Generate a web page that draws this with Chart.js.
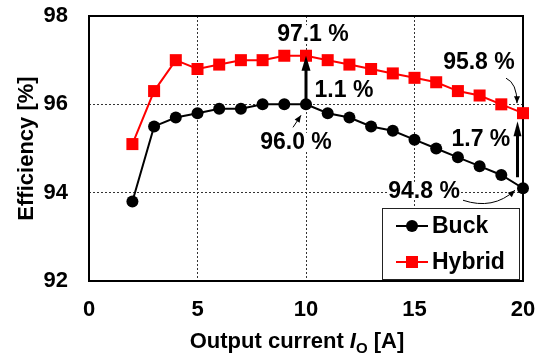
<!DOCTYPE html>
<html>
<head>
<meta charset="utf-8">
<script src="https://cdn.jsdelivr.net/npm/chart.js@4/dist/chart.umd.min.js"></script>
<style>
html,body{margin:0;padding:0;background:#fff;}
#wrap{width:539px;height:358px;}
</style>
</head>
<body>
<div id="wrap"><canvas id="c" width="539" height="358"></canvas></div>
<script>
// ---- data ----
const currents = [2,3,4,5,6,7,8,9,10,11,12,13,14,15,16,17,18,19,20];
const buck =   [93.8,95.5,95.7,95.8,95.9,95.9,96.0,96.0,96.0,95.8,95.7,95.5,95.4,95.2,95.0,94.8,94.6,94.4,94.1];
const hybrid = [95.1,96.3,97.0,96.8,96.9,97.0,97.0,97.1,97.1,97.0,96.9,96.8,96.7,96.6,96.5,96.3,96.2,96.0,95.8];
const xTicks = [0,5,10,15,20];
const yTicks = [92,94,96,98];
const seriesNames = ['Buck','Hybrid'];
const xTitle = ['Output current ', 'I', 'O', ' [A]'];
const yTitle = 'Efficiency [%]';
const annoTexts = ['97.1 %','1.1 %','96.0 %','95.8 %','1.7 %','94.8 %'];

const FONT = '"Liberation Sans", Arial, Helvetica, sans-serif';

function head(ctx, fx, fy, tx, ty, len, hw){
  const ang = Math.atan2(ty-fy, tx-fx);
  const c = Math.cos(ang), s = Math.sin(ang);
  ctx.beginPath();
  ctx.moveTo(tx, ty);
  ctx.lineTo(tx - len*c + hw*s, ty - len*s - hw*c);
  ctx.lineTo(tx - len*c - hw*s, ty - len*s + hw*c);
  ctx.closePath();
  ctx.fill();
}
function curveArrow(ctx, sx, sy, cx, cy, ex, ey){
  ctx.beginPath();
  ctx.moveTo(sx, sy);
  ctx.quadraticCurveTo(cx, cy, ex, ey);
  ctx.stroke();
  head(ctx, cx, cy, ex, ey, 7, 3);
}

const plugin = {
  id: 'decor',
  beforeDatasetsDraw(chart){
    const {ctx, chartArea:a} = chart;
    ctx.save();
    ctx.strokeStyle = '#000';
    ctx.lineWidth = 2;
    ctx.strokeRect(a.left, a.top, a.right - a.left, a.bottom - a.top);
    ctx.restore();
  },
  afterDatasetsDraw(chart){
    const {ctx, scales:{x, y}} = chart;
    const n = currents.length - 1;
    const i10 = currents.indexOf(10);
    ctx.save();
    ctx.fillStyle = '#000';
    ctx.strokeStyle = '#000';
    // vertical arrow at 10 A
    const ax = x.getPixelForValue(currents[i10]);
    const ay1 = y.getPixelForValue(buck[i10]);
    const ay2 = y.getPixelForValue(hybrid[i10]);
    ctx.lineWidth = 3;
    ctx.beginPath(); ctx.moveTo(ax, ay1); ctx.lineTo(ax, ay2 + 12); ctx.stroke();
    head(ctx, ax, ay1, ax, ay2, 15, 4.5);
    // vertical arrow at 20 A
    const bx = x.getPixelForValue(currents[n]) - 5.5;
    const by1 = y.getPixelForValue(buck[n]) - 11;
    const by2 = y.getPixelForValue(hybrid[n]) + 8;
    ctx.beginPath(); ctx.moveTo(bx, by1); ctx.lineTo(bx, by2 + 12); ctx.stroke();
    head(ctx, bx, by1, bx, by2, 15, 4);
    // thin pointer arrows
    ctx.lineWidth = 1;
    const p10x = ax, p10y = ay1;
    ctx.beginPath(); ctx.moveTo(p10x - 13, p10y + 23); ctx.lineTo(p10x - 5, p10y + 11); ctx.stroke();
    head(ctx, p10x - 13, p10y + 23, p10x - 5, p10y + 11, 7, 3);
    const h20x = x.getPixelForValue(currents[n]), h20y = y.getPixelForValue(hybrid[n]);
    curveArrow(ctx, h20x - 17, h20y - 35, h20x - 6, h20y - 30, h20x - 6, h20y - 10);
    const b20x = h20x, b20y = y.getPixelForValue(buck[n]);
    curveArrow(ctx, b20x - 60, b20y + 12, b20x - 30, b20y + 22, b20x - 8, b20y + 2);
    // texts
    const pos = [[10.32,97.59],[11.75,96.34],[9.54,95.15],[17.97,96.96],[18.06,95.22],[15.44,94.04]];
    ctx.font = 'bold 23px ' + FONT;
    ctx.textAlign = 'center';
    ctx.textBaseline = 'middle';
    annoTexts.forEach((t, k) => {
      const px = x.getPixelForValue(pos[k][0]);
      const py = y.getPixelForValue(pos[k][1]);
      const w = ctx.measureText(t).width;
      ctx.fillStyle = '#fff';
      ctx.fillRect(px - w/2 - 1, py - 9, w + 2, 18);
      ctx.fillStyle = '#000';
      ctx.fillText(t, px, py + 1);
    });
    ctx.restore();
  },
  afterDraw(chart){
    const {ctx, chartArea:a} = chart;
    ctx.save();
    // legend
    const L = 382, T = 208, R = a.right - 4, B = a.bottom - 2;
    ctx.fillStyle = '#fff';
    ctx.fillRect(L, T, R - L, B - T);
    ctx.strokeStyle = '#222';
    ctx.lineWidth = 1;
    ctx.strokeRect(L + 0.5, T + 0.5, R - L, B - T);
    const rows = [T + 18, T + 54];
    chart.data.datasets.forEach((ds, k) => {
      const yy = rows[k];
      ctx.strokeStyle = ds.borderColor;
      ctx.lineWidth = 2;
      ctx.beginPath(); ctx.moveTo(396, yy); ctx.lineTo(428, yy); ctx.stroke();
      ctx.fillStyle = ds.pointBackgroundColor;
      if (ds.pointStyle === 'rect') {
        ctx.fillRect(406, yy - 6, 12, 12);
      } else {
        ctx.beginPath(); ctx.arc(412, yy, 6, 0, Math.PI*2); ctx.fill();
      }
      ctx.fillStyle = '#000';
      ctx.font = 'bold 23px ' + FONT;
      ctx.textAlign = 'left';
      ctx.textBaseline = 'middle';
      ctx.fillText(ds.label, 432, yy + 1);
    });
    // y title
    ctx.save();
    ctx.translate(32.5, (a.top + a.bottom) / 2);
    ctx.rotate(-Math.PI / 2);
    ctx.font = 'bold 22px ' + FONT;
    ctx.textAlign = 'center';
    ctx.textBaseline = 'alphabetic';
    ctx.fillStyle = '#000';
    ctx.fillText(yTitle, 0, 0);
    ctx.restore();
    // x title with italic I and subscript O
    const fMain = 'bold 22px ' + FONT, fIt = 'italic bold 22px ' + FONT, fSub = 'bold 15px ' + FONT;
    ctx.fillStyle = '#000';
    ctx.textAlign = 'left';
    ctx.textBaseline = 'alphabetic';
    ctx.font = fMain; const w0 = ctx.measureText(xTitle[0]).width; const w3 = ctx.measureText(xTitle[3]).width;
    ctx.font = fIt; const w1 = ctx.measureText(xTitle[1]).width;
    ctx.font = fSub; const w2 = ctx.measureText(xTitle[2]).width;
    const total = w0 + w1 + w2 + w3;
    let sx = 297 - total / 2;
    const base = 348;
    ctx.font = fMain; ctx.fillText(xTitle[0], sx, base); sx += w0;
    ctx.font = fIt; ctx.fillText(xTitle[1], sx, base); sx += w1;
    ctx.font = fSub; ctx.fillText(xTitle[2], sx, base + 5); sx += w2;
    ctx.font = fMain; ctx.fillText(xTitle[3], sx, base);
    ctx.restore();
  }
};

const gridColor = (ends) => (c) => (ends.includes(c.tick && c.tick.value) ? 'rgba(0,0,0,0)' : '#333');

new Chart(document.getElementById('c'), {
  type: 'line',
  data: {
    datasets: [
      {
        label: seriesNames[0],
        data: currents.map((c, i) => ({x: c, y: buck[i]})),
        borderColor: '#000', backgroundColor: '#000',
        pointBackgroundColor: '#000', pointBorderColor: '#000',
        pointStyle: 'circle', pointRadius: 6, pointBorderWidth: 0,
        borderWidth: 2, tension: 0, clip: false
      },
      {
        label: seriesNames[1],
        data: currents.map((c, i) => ({x: c, y: hybrid[i]})),
        borderColor: '#ff0000', backgroundColor: '#ff0000',
        pointBackgroundColor: '#ff0000', pointBorderColor: '#ff0000',
        pointStyle: 'rect', pointRadius: 8.5, pointBorderWidth: 0,
        borderWidth: 2, tension: 0, clip: false
      }
    ]
  },
  options: {
    responsive: false,
    animation: false,
    devicePixelRatio: 1,
    layout: {padding: {left: 0, right: 16, top: 16, bottom: 0}},
    plugins: {legend: {display: false}, tooltip: {enabled: false}},
    scales: {
      x: {
        type: 'linear', min: xTicks[0], max: xTicks[xTicks.length - 1],
        afterBuildTicks: s => { s.ticks = xTicks.map(v => ({value: v})); },
        afterFit: s => { s.height = 77; s.paddingLeft = 0; s.paddingRight = 0; },
        ticks: {color: '#000', font: {family: FONT, size: 22, weight: 'bold'}, padding: 16, maxRotation: 0},
        grid: {drawTicks: false, color: gridColor([0, 20]), lineWidth: 1},
        border: {display: false, dash: [2, 2]},
        title: {display: false}
      },
      y: {
        type: 'linear', min: yTicks[0], max: yTicks[yTicks.length - 1],
        afterBuildTicks: s => { s.ticks = yTicks.map(v => ({value: v})); },
        afterFit: s => { s.width = 89; s.paddingTop = 0; s.paddingBottom = 0; },
        ticks: {color: '#000', font: {family: FONT, size: 22, weight: 'bold'}, padding: 21},
        grid: {drawTicks: false, color: gridColor([92, 98]), lineWidth: 1},
        border: {display: false, dash: [2, 2]},
        title: {display: false}
      }
    }
  },
  plugins: [plugin]
});
</script>
</body>
</html>
